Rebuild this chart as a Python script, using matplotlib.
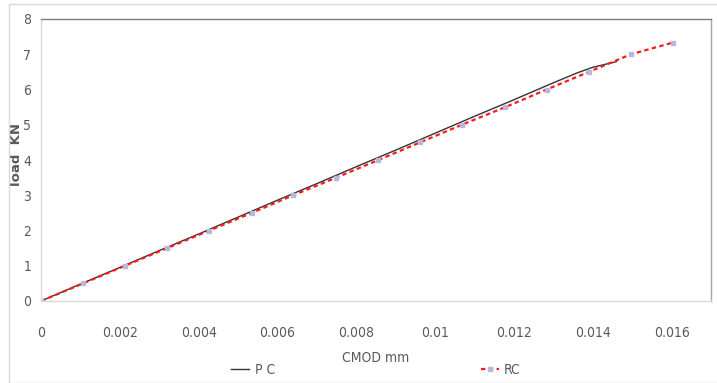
import matplotlib
matplotlib.use("Agg")
import matplotlib.pyplot as plt
from matplotlib.patches import Rectangle

# Data
pc_x = [0, 0.001, 0.002, 0.003, 0.004, 0.005, 0.006, 0.007, 0.008, 0.009,
        0.010, 0.011, 0.012, 0.013, 0.0136, 0.014, 0.0146]
pc_y = [0, 0.48, 0.95, 1.43, 1.90, 2.38, 2.86, 3.33, 3.81, 4.28,
        4.76, 5.24, 5.71, 6.19, 6.47, 6.63, 6.79]
rc_x = [0, 0.00107, 0.00213, 0.00320, 0.00427, 0.00535, 0.00640, 0.00749,
        0.00856, 0.00962, 0.01068, 0.01178, 0.01283, 0.01390, 0.01497, 0.01603]
rc_y = [0, 0.5, 1.0, 1.5, 2.0, 2.5, 3.0, 3.5, 4.0, 4.5, 5.0, 5.5, 6.0, 6.5, 7.0, 7.33]
x_ticks = [0, 0.002, 0.004, 0.006, 0.008, 0.01, 0.012, 0.014, 0.016]
x_tick_labels = ["0", "0.002", "0.004", "0.006", "0.008", "0.01", "0.012", "0.014", "0.016"]
y_ticks = [0, 1, 2, 3, 4, 5, 6, 7, 8]

W, H = 717, 383
fig = plt.figure(figsize=(W / 100, H / 100), dpi=100)
fig.patches.append(Rectangle((9 / W, 0), 1.2, 1 - 4 / H, transform=fig.transFigure,
                             fill=False, edgecolor="#d9d9d9", linewidth=1.0))
ax = fig.add_axes([41 / W, 82 / H, (711 - 41) / W, (301 - 19) / H])

tick_font = dict(family="DejaVu Sans", stretch="condensed", size=10)
grey = "#595959"

ax.plot(pc_x, pc_y, color="#333333", linewidth=1.0, label="P C")
ax.plot(rc_x, rc_y, color="#ff1a1a", linewidth=1.6, dashes=(2, 1.5),
        marker="s", markersize=3, markerfacecolor="#b8b8dc", markeredgecolor="#b8b8dc",
        label="RC")

ax.set_xlim(0, 0.017)
ax.set_ylim(0, 8)
ax.set_xticks(x_ticks)
ax.set_xticklabels(x_tick_labels, color=grey, **tick_font)
ax.set_yticks(y_ticks)
ax.set_yticklabels([str(v) for v in y_ticks], color=grey, **tick_font)
ax.tick_params(axis="x", length=0, pad=18)
ax.tick_params(axis="y", length=0, pad=7)

ax.spines["left"].set_color("#d9d9d9")
ax.spines["bottom"].set_color("#d9d9d9")
ax.spines["top"].set_color("#7f7f7f")
ax.spines["right"].set_color("#a6a6a6")
for s in ax.spines.values():
    s.set_linewidth(1.0)

ax.set_xlabel("CMOD mm", color=grey, labelpad=8, **tick_font)
ax.set_ylabel("load  KN", family="DejaVu Sans", size=9.5, fontweight="bold",
              color=grey)
ax.yaxis.set_label_coords((23 - 41) / 670, (301 - 154) / 282)

fig.legend(loc="center", bbox_to_anchor=(376 / W, 1 - 370 / H), ncol=2, frameon=False,
           prop={"family": "DejaVu Sans", "stretch": "condensed", "size": 10},
           labelcolor=grey, handlelength=1.3, handletextpad=0.4, columnspacing=14.8)

fig.savefig("out.png", dpi=100)
